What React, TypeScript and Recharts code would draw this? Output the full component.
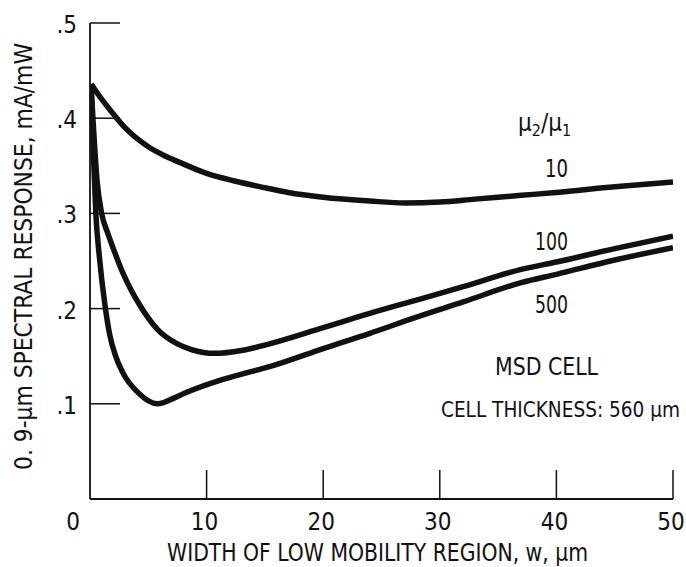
import React from "react";
import { Line, LineChart, XAxis, YAxis } from "recharts";

// width of low mobility region (um) vs 0.9-um spectral response (mA/mW)
const ratio10W = [0.1, 1, 1.9, 3, 5, 6.5, 8, 10, 12.4, 15, 17, 20, 24, 27, 30, 33, 37, 40, 45, 50];
const ratio10V = [0.436, 0.42, 0.406, 0.39, 0.37, 0.36, 0.352, 0.342, 0.334, 0.327, 0.322, 0.317, 0.313, 0.311, 0.312, 0.315, 0.319, 0.322, 0.328, 0.333];

const ratio100W = [0.1, 0.3, 0.6, 1, 1.5, 2, 2.8, 3.5, 4.3, 5.8, 7.5, 8.7, 10.7, 13, 15.4, 20, 24, 28, 32, 36.9, 40, 45, 50];
const ratio100V = [0.432, 0.39, 0.335, 0.3, 0.28, 0.263, 0.238, 0.22, 0.203, 0.178, 0.163, 0.157, 0.153, 0.156, 0.163, 0.18, 0.195, 0.209, 0.223, 0.241, 0.249, 0.263, 0.276];

const ratio500W = [0.1, 0.3, 0.5, 0.8, 1.3, 1.7, 2.2, 2.8, 4.1, 5.8, 7.2, 8.1, 11, 13.9, 15.4, 20, 24, 28, 32, 36.9, 40, 45, 50];
const ratio500V = [0.432, 0.36, 0.3, 0.255, 0.202, 0.172, 0.15, 0.133, 0.112, 0.1, 0.106, 0.111, 0.124, 0.134, 0.139, 0.158, 0.174, 0.191, 0.207, 0.227, 0.236, 0.251, 0.264];

const xTicks = [0, 10, 20, 30, 40, 50];
const yTicks = [0.1, 0.2, 0.3, 0.4, 0.5];

const toRows = (ws: number[], vs: number[]) => ws.map((w, i) => ({ w, v: vs[i] }));

const FONT = "'Liberation Sans Narrow', 'DejaVu Sans Condensed', 'DejaVu Sans', sans-serif";
const INK = "#111";

function YTick({ x, y, payload }: any) {
  return (
    <g>
      <line x1={x} x2={x + 30} y1={y} y2={y} stroke={INK} strokeWidth={1.5} />
      <text x={x - 13} y={y + 10} textAnchor="end" fontSize={24} fill={INK} fontFamily={FONT}>
        {"." + Math.round(payload.value * 10)}
      </text>
    </g>
  );
}

function XTick({ x, y, payload }: any) {
  const v = payload.value;
  return (
    <g>
      {v !== 0 && <line x1={x} x2={x} y1={y} y2={y - 29} stroke={INK} strokeWidth={1.5} />}
      <text x={v === 0 ? x - 17 : x - 2} y={y + 31} textAnchor="middle" fontSize={24} fill={INK} fontFamily={FONT}>
        {v}
      </text>
    </g>
  );
}

function Txt({ x, y, len, size = 24, anchor = "start", children }: any) {
  return (
    <text
      x={x}
      y={y}
      fontSize={size}
      fill={INK}
      fontFamily={FONT}
      textAnchor={anchor}
      textLength={len}
      lengthAdjust="spacingAndGlyphs"
    >
      {children}
    </text>
  );
}

export default function App() {
  return (
    <div style={{ position: "absolute", left: 0, top: 0, width: 686, height: 567, background: "#fff" }}>
      <LineChart width={686} height={567} margin={{ top: 23, right: 13, bottom: 28, left: 30 }}>
        <XAxis
          type="number"
          dataKey="w"
          domain={[0, 50]}
          ticks={xTicks}
          tick={<XTick />}
          tickLine={false}
          tickSize={0}
          tickMargin={0}
          height={40}
          axisLine={{ stroke: INK, strokeWidth: 1.8 }}
          allowDataOverflow
        />
        <YAxis
          type="number"
          dataKey="v"
          domain={[0, 0.5]}
          ticks={yTicks}
          tick={<YTick />}
          tickLine={false}
          tickSize={0}
          tickMargin={0}
          width={60}
          axisLine={{ stroke: INK, strokeWidth: 1.8 }}
          allowDataOverflow
        />
        <Line data={toRows(ratio10W, ratio10V)} dataKey="v" type="monotone" stroke={INK} strokeWidth={5.5} dot={false} isAnimationActive={false} />
        <Line data={toRows(ratio100W, ratio100V)} dataKey="v" type="monotone" stroke={INK} strokeWidth={5.5} dot={false} isAnimationActive={false} />
        <Line data={toRows(ratio500W, ratio500V)} dataKey="v" type="monotone" stroke={INK} strokeWidth={5.5} dot={false} isAnimationActive={false} />

        <g>
          <text x={518} y={131} fontSize={24} fill={INK} fontFamily={FONT}>
            μ<tspan fontSize={16} dy={5}>2</tspan>
            <tspan dy={-5}>/μ</tspan>
            <tspan fontSize={16} dy={5}>1</tspan>
          </text>
          <Txt x={545} y={177} len={23}>10</Txt>
          <Txt x={535} y={250} len={33}>100</Txt>
          <Txt x={535} y={313} len={33}>500</Txt>
          <Txt x={495} y={375} len={103}>MSD CELL</Txt>
          <Txt x={680} y={417} len={239} size={21} anchor="end">CELL THICKNESS: 560 μm</Txt>
          <Txt x={167} y={561} len={421}>WIDTH OF LOW MOBILITY REGION, w, μm</Txt>
          <text
            x={32}
            y={470}
            transform="rotate(-90, 32, 470)"
            fontSize={24}
            fill={INK}
            fontFamily={FONT}
            textLength={427}
            lengthAdjust="spacingAndGlyphs"
          >
            0. 9-μm SPECTRAL RESPONSE, mA/mW
          </text>
        </g>
      </LineChart>
    </div>
  );
}
